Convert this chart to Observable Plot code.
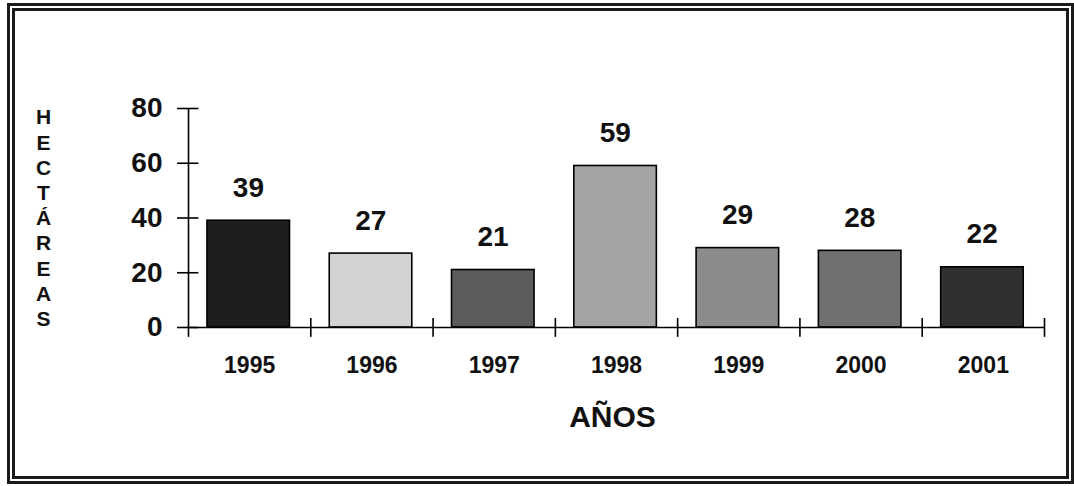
<!DOCTYPE html>
<html>
<head>
<meta charset="utf-8">
<script src="https://cdn.jsdelivr.net/npm/d3@7"></script>
<script src="https://cdn.jsdelivr.net/npm/@observablehq/plot@0.6"></script>
<style>
  html, body { margin: 0; padding: 0; background: #fff; }
  body { position: relative; width: 1074px; height: 486px; overflow: hidden; }
  #frame { position: absolute; left: 7px; top: 3px; width: 1051px; height: 465px; border: 8px double #1a1a1a; }
  #chart { position: absolute; left: 0; top: 0; }
  text { font-family: "Liberation Sans", Arial, sans-serif; }
</style>
</head>
<body>
<div id="frame"></div>
<div id="chart"></div>
<script>
const years = ["1995", "1996", "1997", "1998", "1999", "2000", "2001"];
const hectareas = [39, 27, 21, 59, 29, 28, 22];
const barFills = ["#1e1e1e", "#d2d2d2", "#5c5c5c", "#a4a4a4", "#8c8c8c", "#707070", "#303030"];
const yTicks = [0, 20, 40, 60, 80];
const yTitle = "HECTÁREAS";
const xTitle = "AÑOS";

const data = years.map((year, i) => ({ i, year, value: hectareas[i], fill: barFills[i] }));
const xBoundaries = d3.range(years.length + 1);

const chart = Plot.plot({
  width: 1074,
  height: 486,
  marginLeft: 188,
  marginRight: 30,
  marginTop: 108,
  marginBottom: 159,
  x: { type: "linear", domain: [0, years.length], axis: null },
  y: { domain: [0, 80], axis: null },
  color: { type: "identity" },
  style: { fontFamily: "Liberation Sans, Arial, sans-serif", background: "transparent", overflow: "visible" },
  marks: [
    Plot.rect(data, {
      x1: d => d.i + 0.155, x2: d => d.i + 0.83,
      y1: 0, y2: d => d.value,
      fill: d => d.fill, stroke: "#000", strokeWidth: 1.6
    }),
    // axis lines
    Plot.ruleY([0], { x1: 0, x2: years.length, stroke: "#000", strokeWidth: 1.6 }),
    Plot.ruleX([0], { y1: -3.6, y2: 80, stroke: "#000", strokeWidth: 1.6 }),
    // y ticks crossing the axis
    Plot.ruleY(yTicks, { y: d => d, x1: -0.09, x2: 0.085, stroke: "#000", strokeWidth: 1.6 }),
    // x ticks crossing the axis at category boundaries
    Plot.ruleX(xBoundaries.slice(1), { x: d => d, y1: -3.6, y2: 3.3, stroke: "#000", strokeWidth: 1.6 }),
    // y tick labels
    Plot.text(yTicks, {
      x: 0, y: d => d, text: d => String(d), dx: -26, textAnchor: "end",
      fontSize: 28, fontWeight: "bold", fill: "#111"
    }),
    // x labels
    Plot.text(data, {
      x: d => d.i + 0.5, y: 0, text: d => d.year, dy: 38, lineAnchor: "middle",
      fontSize: 23, fontWeight: "bold", fill: "#111"
    }),
    // value labels
    Plot.text(data, {
      x: d => d.i + 0.49, y: d => d.value, text: d => String(d.value), dy: -33, lineAnchor: "middle",
      fontSize: 28, fontWeight: "bold", fill: "#111"
    }),
    // y title as stacked letters
    Plot.text([Array.from(yTitle).join("\n")], {
      x: 0, y: 80, text: d => d, dx: -145, dy: -2, lineAnchor: "top", lineHeight: 1.2,
      fontSize: 21, fontWeight: "bold", fill: "#111"
    }),
    // x title
    Plot.text([xTitle], {
      x: years.length / 2, y: 0, text: d => d, dx: -4, dy: 90, lineAnchor: "middle",
      fontSize: 30, fontWeight: "bold", fill: "#111"
    })
  ]
});
document.getElementById("chart").appendChild(chart);
</script>
</body>
</html>
